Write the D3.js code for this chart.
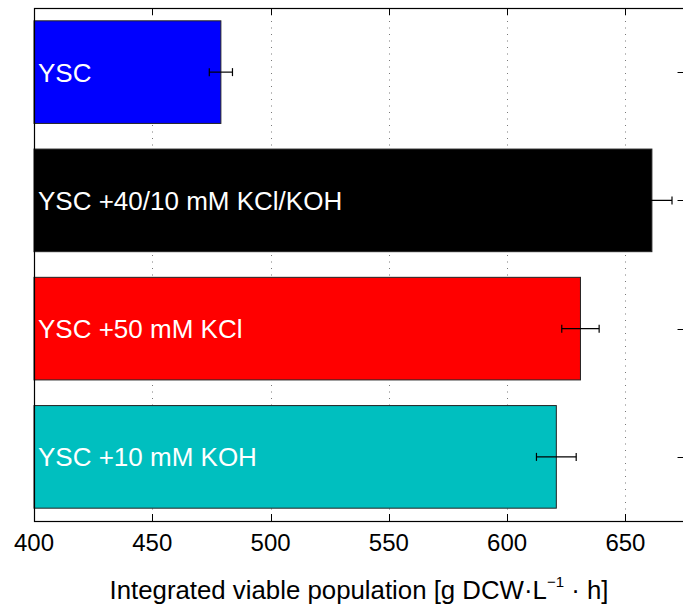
<!DOCTYPE html>
<html>
<head>
<meta charset="utf-8">
<script src="https://cdn.jsdelivr.net/npm/d3@7"></script>
<style>
  html, body { margin: 0; padding: 0; background: #fff; overflow: hidden; }
  svg { display: block; }
  text { font-family: "Liberation Sans", Arial, Helvetica, sans-serif; }
</style>
</head>
<body>
<svg id="chart" width="683" height="605"></svg>
<script>
// Treatments, listed top to bottom
const categories = ["YSC", "YSC +40/10 mM KCl/KOH", "YSC +50 mM KCl", "YSC +10 mM KOH"];
// Integrated viable population and its error (g DCW·L^-1·h)
const values = [479, 661.2, 631, 620.8];
const errors = [4.9, 8.5, 7.9, 8.4];
const barColors = ["#0000ff", "#000000", "#ff0000", "#00bfbf"];
// Axis settings
const xDomain = [400, 675];
const xTicks = [400, 450, 500, 550, 600, 650];
const xTitle = "Integrated viable population [g DCW·L";

const svg = d3.select("#chart");
const plotLeft = 34, plotTop = 8, plotBottom = 521;
const pxPerUnit = 2.3656;
const plotRight = plotLeft + (xDomain[1] - xDomain[0]) * pxPerUnit;

const x = d3.scaleLinear().domain(xDomain).range([plotLeft, plotRight]);
const y = d3.scaleBand().domain(categories).range([plotTop, plotBottom])
  .paddingInner(0.2).paddingOuter(0.1);

const tickLen = 7;

// Dotted vertical grid
svg.append("g").selectAll("line").data(xTicks.filter(t => t > xDomain[0]))
  .join("line")
  .attr("x1", d => Math.round(x(d)) + 0.5).attr("x2", d => Math.round(x(d)) + 0.5)
  .attr("y1", plotTop).attr("y2", plotBottom)
  .attr("stroke", "#555").attr("stroke-width", 0.8)
  .attr("stroke-dasharray", "1,5.5");

// Tick marks (inward, top/bottom and left/right)
const ticks = svg.append("g").attr("stroke", "#000").attr("stroke-width", 1);
xTicks.forEach(t => {
  const xx = Math.round(x(t)) + 0.5;
  ticks.append("line").attr("x1", xx).attr("x2", xx).attr("y1", plotBottom).attr("y2", plotBottom - tickLen);
  ticks.append("line").attr("x1", xx).attr("x2", xx).attr("y1", plotTop).attr("y2", plotTop + tickLen);
});
categories.forEach(c => {
  const yy = Math.round(y(c) + y.bandwidth() / 2) + 0.5;
  ticks.append("line").attr("x1", plotLeft).attr("x2", plotLeft + tickLen).attr("y1", yy).attr("y2", yy);
  ticks.append("line").attr("x1", plotRight).attr("x2", plotRight - tickLen).attr("y1", yy).attr("y2", yy);
});

// Bars
const rows = categories.map((c, i) => ({ c, v: values[i], e: errors[i], col: barColors[i] }));
svg.append("g").selectAll("rect").data(rows).join("rect")
  .attr("x", x(xDomain[0]))
  .attr("y", d => y(d.c))
  .attr("width", d => x(d.v) - x(xDomain[0]))
  .attr("height", y.bandwidth())
  .attr("fill", d => d.col)
  .attr("stroke", "#222").attr("stroke-width", 1);

// Error bars
const eb = svg.append("g").attr("stroke", "#000").attr("stroke-width", 1.2);
rows.forEach(d => {
  const cy = y(d.c) + y.bandwidth() / 2;
  eb.append("line").attr("x1", x(d.v - d.e)).attr("x2", x(d.v + d.e)).attr("y1", cy).attr("y2", cy);
  [d.v - d.e, d.v + d.e].forEach(v => {
    eb.append("line").attr("x1", x(v)).attr("x2", x(v)).attr("y1", cy - 4).attr("y2", cy + 4);
  });
});

// Labels inside bars
svg.append("g").selectAll("text").data(rows).join("text")
  .attr("x", plotLeft + 4)
  .attr("y", d => y(d.c) + y.bandwidth() / 2 + 9.5)
  .attr("fill", "#fff")
  .attr("font-size", 26)
  .text(d => d.c);

// Axis box
svg.append("rect")
  .attr("x", plotLeft + 0.5).attr("y", plotTop + 0.5)
  .attr("width", plotRight - plotLeft).attr("height", plotBottom - plotTop)
  .attr("fill", "none").attr("stroke", "#000").attr("stroke-width", 1.2);

// Tick labels
svg.append("g").selectAll("text").data(xTicks).join("text")
  .attr("x", d => x(d))
  .attr("y", 551)
  .attr("text-anchor", "middle")
  .attr("font-size", 24)
  .attr("fill", "#000")
  .text(d => d);

// Axis title
const title = svg.append("text")
  .attr("x", 359)
  .attr("y", 599)
  .attr("text-anchor", "middle")
  .attr("font-size", 25.8)
  .attr("fill", "#000");
title.append("tspan").text(xTitle);
title.append("tspan").attr("dy", -12).attr("font-size", 15).text("\u22121");
title.append("tspan").attr("dy", 12).text(" · h]");
</script>
</body>
</html>
